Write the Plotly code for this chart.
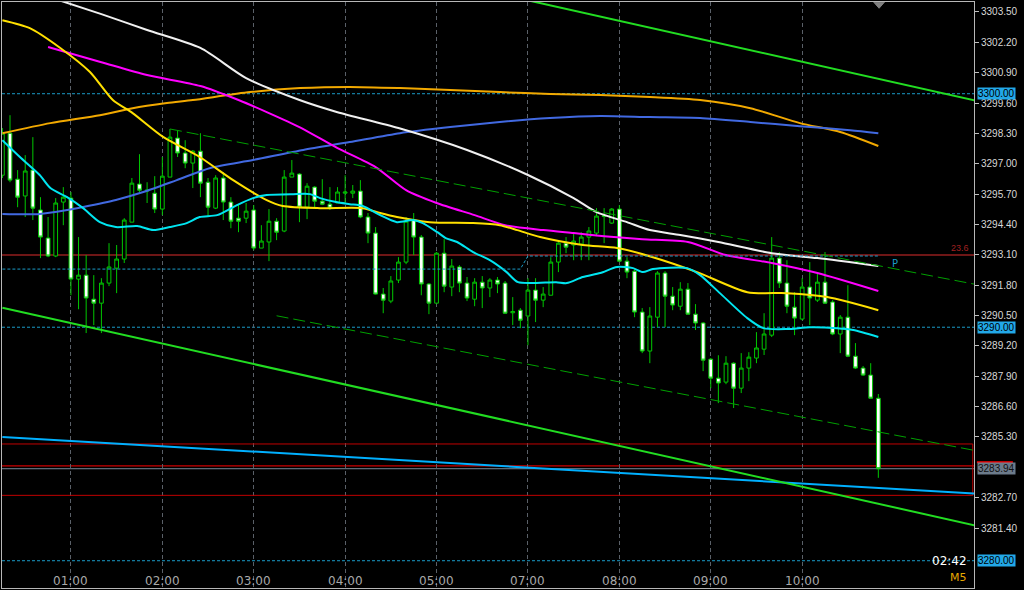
import plotly.graph_objects as go

# ---------------- data (bar index, prices) ----------------
bars = list(range(-1, 115))

opens = [3296.51,
 3298.31, 3296.34, 3295.62, 3296.73, 3295.02, 3293.82, 3293.05, 3295.36, 3295.53, 3292.06,
 3292.23, 3291.20, 3291.03, 3291.89, 3292.53, 3292.92, 3294.50, 3296.13, 3295.83, 3295.74,
 3295.06, 3296.43, 3298.10, 3297.46, 3297.03, 3297.54, 3296.21, 3295.10, 3296.39, 3295.36,
 3294.67, 3294.67, 3295.02, 3293.39, 3293.65, 3294.54, 3294.12, 3296.43, 3296.56, 3295.14,
 3296.00, 3295.40, 3295.27, 3295.32, 3295.74, 3295.74, 3295.83, 3294.72, 3294.03, 3291.42,
 3291.12, 3292.02, 3292.79, 3294.59, 3293.86, 3291.85, 3291.03, 3293.17, 3291.72, 3292.58,
 3291.89, 3291.20, 3291.93, 3291.68, 3292.02, 3291.89, 3290.62, 3290.73, 3290.48, 3291.59,
 3291.16, 3291.37, 3292.79, 3293.60, 3293.52, 3293.56, 3293.86, 3294.03, 3294.74, 3294.46,
 3295.06, 3292.83, 3292.40, 3290.65, 3288.98, 3290.43, 3292.32, 3291.33, 3290.90, 3291.63,
 3290.56, 3290.18, 3288.63, 3287.82, 3287.65, 3288.46, 3287.39, 3288.25, 3288.68, 3289.06,
 3289.66, 3292.96, 3291.89, 3290.86, 3290.35, 3291.72, 3291.16, 3291.93, 3291.08, 3289.71,
 3290.43, 3288.76, 3288.25, 3287.95, 3286.96]

highs = [3298.53,
 3299.08, 3296.73, 3297.37, 3298.14, 3295.57, 3294.72, 3295.53, 3296.00, 3295.79, 3293.86,
 3293.09, 3292.23, 3292.10, 3293.60, 3293.52, 3294.67, 3296.39, 3297.41, 3296.21, 3296.47,
 3297.29, 3298.49, 3298.44, 3298.01, 3297.59, 3298.31, 3296.39, 3296.51, 3296.64, 3295.57,
 3295.23, 3295.32, 3295.23, 3294.37, 3295.06, 3294.67, 3296.73, 3297.16, 3296.60, 3296.17,
 3296.04, 3296.34, 3296.00, 3296.00, 3296.51, 3296.09, 3296.30, 3294.89, 3294.29, 3291.68,
 3292.19, 3293.00, 3294.72, 3294.89, 3293.95, 3291.89, 3293.22, 3293.77, 3292.92, 3292.66,
 3292.15, 3292.10, 3292.19, 3292.10, 3292.15, 3291.98, 3291.29, 3290.82, 3292.10, 3292.10,
 3291.72, 3293.00, 3293.73, 3293.86, 3294.03, 3294.07, 3294.29, 3295.10, 3295.10, 3295.10,
 3295.23, 3293.00, 3292.53, 3290.82, 3290.86, 3292.40, 3292.40, 3291.72, 3291.93, 3291.89,
 3290.99, 3290.22, 3288.68, 3288.80, 3288.76, 3288.50, 3288.89, 3288.93, 3289.79, 3290.60,
 3293.86, 3293.22, 3292.87, 3291.50, 3292.10, 3292.79, 3292.36, 3293.22, 3291.16, 3290.52,
 3291.80, 3289.32, 3288.34, 3288.46, 3287.14]

lows = [3296.39,
 3296.21, 3295.14, 3294.72, 3294.59, 3292.96, 3293.00, 3293.00, 3294.37, 3291.37, 3290.77,
 3289.75, 3290.09, 3289.75, 3291.76, 3291.46, 3292.75, 3294.50, 3295.79, 3295.32, 3294.89,
 3294.80, 3296.43, 3297.29, 3296.81, 3295.96, 3295.57, 3294.72, 3295.06, 3294.59, 3294.24,
 3294.07, 3294.46, 3293.30, 3293.39, 3292.83, 3293.73, 3294.07, 3296.43, 3294.50, 3294.63,
 3295.10, 3295.23, 3295.02, 3295.32, 3295.32, 3295.53, 3294.67, 3293.60, 3291.40, 3290.60,
 3291.03, 3291.89, 3292.70, 3293.09, 3291.37, 3290.56, 3291.03, 3291.50, 3291.33, 3291.50,
 3291.12, 3290.90, 3290.82, 3291.29, 3291.46, 3290.58, 3290.09, 3289.96, 3289.23, 3290.22,
 3290.86, 3291.37, 3292.36, 3293.17, 3292.87, 3292.87, 3292.87, 3293.90, 3293.60, 3294.42,
 3292.79, 3292.10, 3290.43, 3288.89, 3288.46, 3290.00, 3290.00, 3290.73, 3290.73, 3290.54,
 3289.88, 3288.12, 3287.39, 3286.75, 3287.56, 3286.54, 3287.18, 3287.69, 3288.46, 3288.81,
 3289.58, 3291.68, 3290.60, 3289.66, 3290.30, 3290.09, 3291.08, 3291.00, 3289.66, 3288.89,
 3288.72, 3288.21, 3287.91, 3286.94, 3283.55]

closes = [3298.31,
 3296.30, 3295.57, 3296.69, 3295.10, 3293.86, 3293.05, 3295.32, 3295.57, 3292.06, 3292.23,
 3291.25, 3291.03, 3291.89, 3292.58, 3292.92, 3294.59, 3296.17, 3295.87, 3295.87, 3295.06,
 3296.47, 3298.14, 3297.46, 3297.03, 3297.54, 3296.17, 3295.14, 3296.39, 3295.36, 3294.54,
 3294.54, 3294.97, 3293.39, 3293.69, 3294.54, 3294.07, 3296.43, 3296.60, 3295.14, 3296.04,
 3295.40, 3295.27, 3295.10, 3295.79, 3295.79, 3295.83, 3294.72, 3294.03, 3291.42, 3291.16,
 3291.98, 3292.79, 3294.54, 3293.86, 3291.85, 3291.03, 3293.17, 3291.76, 3292.62, 3291.89,
 3291.25, 3291.93, 3291.68, 3292.02, 3291.85, 3290.60, 3290.67, 3290.30, 3291.59, 3291.16,
 3291.42, 3292.79, 3293.60, 3293.43, 3293.69, 3293.86, 3294.12, 3294.76, 3294.78, 3295.06,
 3292.83, 3292.36, 3290.65, 3288.98, 3290.48, 3292.32, 3291.33, 3290.95, 3291.63, 3290.56,
 3290.18, 3288.59, 3287.82, 3287.61, 3288.46, 3287.39, 3288.25, 3288.72, 3289.11, 3289.71,
 3292.96, 3291.89, 3290.90, 3290.39, 3291.72, 3291.25, 3291.93, 3291.03, 3289.71, 3290.43,
 3288.76, 3288.25, 3287.95, 3286.96, 3283.94]

# moving averages (bar index, price)
ma_white_x = [6, 12, 18, 25, 31, 38, 43, 51, 60, 68, 74, 77, 81, 84, 88, 93, 100, 106, 114]
ma_white_y = [3304.05, 3303.41, 3302.73, 3301.96, 3300.67, 3299.73, 3299.21, 3298.53, 3297.59, 3296.52,
              3295.53, 3294.93, 3294.50, 3294.16, 3293.95, 3293.65, 3293.17, 3292.96, 3292.62]

ma_magenta_x = [5, 12, 18, 25, 30, 34, 38, 43, 48, 52, 56, 61, 65, 70, 74, 78, 83, 89, 94, 100, 106, 114]
ma_magenta_y = [3302.00, 3301.35, 3300.80, 3300.33, 3299.73, 3299.17, 3298.57, 3297.67, 3296.86, 3295.87,
                3295.32, 3294.80, 3294.37, 3294.16, 3294.03, 3293.90, 3293.77, 3293.65, 3293.09, 3292.75,
                3292.32, 3291.55]

ma_yellow_x = [-1, 2.6, 6.6, 10.5, 13.5, 16.1, 20.1, 24.9, 29.3, 33.7, 35.8, 40.7, 46.3, 48.6, 50.8, 55.1,
               60.8, 64.3, 66.6, 69.6, 75.2, 79.7, 84.4, 90.2, 96.8, 102, 107.3, 114]
ma_yellow_y = [3303.15, 3302.81, 3301.96, 3300.93, 3299.73, 3299.17, 3298.15, 3297.29, 3296.30, 3295.44,
               3295.19, 3295.10, 3295.10, 3294.89, 3294.72, 3294.50, 3294.46, 3294.37, 3294.16, 3293.86,
               3293.52, 3293.39, 3293.00, 3292.36, 3291.50, 3291.46, 3291.29, 3290.73]

ma_orange_x = [-1, 5.3, 11.8, 16.1, 20.6, 24, 31.5, 38.1, 44.6, 51.2, 57.8, 64.3, 70.9, 77.5, 84, 90.6,
               97.2, 103.7, 109, 114]
ma_orange_y = [3298.31, 3298.74, 3299.08, 3299.38, 3299.60, 3299.73, 3300.07, 3300.24, 3300.29, 3300.24,
               3300.16, 3300.07, 3299.99, 3299.94, 3299.86, 3299.73, 3299.38, 3298.74, 3298.36, 3297.76]

ma_blue_x = [-1, 3.9, 7.5, 9.6, 13.9, 17.5, 21.9, 26.3, 31.9, 38.5, 44.6, 51.2, 57.8, 64.3, 70.9, 77.5,
             84, 90.6, 97.2, 103.7, 110.3, 114]
ma_blue_y = [3294.85, 3294.85, 3295.02, 3295.15, 3295.45, 3295.79, 3296.30, 3296.82, 3297.16, 3297.59,
             3297.93, 3298.31, 3298.57, 3298.79, 3298.96, 3299.05, 3299.00, 3298.96, 3298.79, 3298.61,
             3298.44, 3298.31]

ma_cyan_x = [-1, 1.3, 3.9, 5.3, 7.5, 9.6, 11.8, 13.9, 16.7, 18.8, 21, 23.2, 24.9, 27.2, 29.8, 31.9, 33.7,
             37.2, 39.4, 40.7, 42.8, 44.6, 46.3, 48.6, 50.8, 52.9, 54.2, 56.1, 57.2, 58.7, 60.8, 63, 65.2,
             66.7, 71.7, 73.1, 75.2, 77.5, 79.7, 81.8, 83.1, 84.4, 88.9, 90.6, 93.2, 96.8, 98.9, 102, 105,
             108.6, 110.7, 114]
ma_cyan_y = [3298.01, 3297.29, 3296.52, 3295.96, 3295.57, 3295.10, 3294.50, 3294.29, 3294.33, 3294.16,
             3294.29, 3294.46, 3294.72, 3294.80, 3295.23, 3295.53, 3295.66, 3295.70, 3295.70, 3295.53,
             3295.36, 3295.27, 3295.19, 3294.80, 3294.50, 3294.59, 3294.46, 3294.07, 3293.82, 3293.65,
             3293.22, 3292.87, 3292.36, 3291.93, 3291.93, 3291.89, 3292.15, 3292.32, 3292.58, 3292.53,
             3292.36, 3292.49, 3292.53, 3292.23, 3291.46, 3290.39, 3289.96, 3289.92, 3290.00, 3289.96,
             3289.88, 3289.58]

# pivot level (dotted), changes at the new session
pivot_x = [-1, 67, 68, 114]
pivot_y = [3292.49, 3292.49, 3293.05, 3293.05]

# trend lines: (bar, price) anchors
chan_upper = ([-2, 127], [3309.11, 3299.69])
chan_lower = ([-1, 127], [3290.83, 3281.49])
dash_upper = ([21, 127], [3298.49, 3291.82])
dash_lower = ([35, 127], [3290.49, 3284.70])
reg_blue = ([-1, 127], [3285.30, 3282.87])

# horizontal levels
round_levels = [3300.00, 3290.00, 3280.00]
fib_236 = 3293.09
box_top, box_bottom = 3285.00, 3282.80
ask_price = 3284.06
bid_price = 3283.94

price_ticks = [3303.50, 3302.20, 3300.90, 3299.60, 3298.30, 3297.00, 3295.70, 3294.40,
               3293.10, 3291.80, 3290.50, 3289.20, 3287.90, 3286.60, 3285.30, 3282.70, 3281.40]

time_ticks = [8, 20, 32, 44, 56, 68, 80, 92, 104]
time_labels = ["01:00", "02:00", "03:00", "04:00", "05:00", "07:00", "08:00", "09:00", "10:00"]

# ---------------- figure ----------------
GREEN = "#00C800"
fig = go.Figure()

fig.add_trace(go.Candlestick(
    x=bars, open=opens, high=highs, low=lows, close=closes,
    increasing=dict(line=dict(color=GREEN, width=1), fillcolor="#000000"),
    decreasing=dict(line=dict(color=GREEN, width=1), fillcolor="#FFFFFF"),
    whiskerwidth=0, hoverinfo="skip", showlegend=False))

def line(xs, ys, color, width=2, dash="solid", smooth=False):
    ln = dict(color=color, width=width, dash=dash)
    if smooth:
        ln.update(shape="spline", smoothing=0.7)
    fig.add_trace(go.Scatter(x=xs, y=ys, mode="lines", line=ln,
                             hoverinfo="skip", showlegend=False))

line(ma_orange_x, ma_orange_y, "#F2A900", smooth=True)
line(ma_blue_x, ma_blue_y, "#4169E1", smooth=True)
line(ma_white_x, ma_white_y, "#F0F0F0", smooth=True)
line(ma_magenta_x, ma_magenta_y, "#FF00FF", smooth=True)
line(ma_yellow_x, ma_yellow_y, "#FFE000", smooth=True)
line(ma_cyan_x, ma_cyan_y, "#00E5F0", smooth=True)
line(pivot_x, pivot_y, "#1A9CC8", 1, "3px,2px")
line(*reg_blue, "#00B0FF", 2)
line(*chan_upper, "#22DD22", 2)
line(*chan_lower, "#22DD22", 2)
line(*dash_upper, "#00A000", 1, "12px,5px")
line(*dash_lower, "#00A000", 1, "12px,5px")

shapes = []
for lv in round_levels:
    shapes.append(dict(type="line", xref="paper", x0=0, x1=1, yref="y", y0=lv, y1=lv,
                       line=dict(color="#1A9CC8", width=1, dash="3px,2px"), layer="between"))
shapes.append(dict(type="line", xref="paper", x0=0, x1=1, yref="y", y0=fib_236, y1=fib_236,
                   line=dict(color="#6E1616", width=2), layer="between"))
shapes.append(dict(type="rect", xref="x", x0=-3, x1=126.4, yref="y", y0=box_bottom, y1=box_top,
                   line=dict(color="#C00000", width=1), layer="between"))
shapes.append(dict(type="line", xref="paper", x0=0, x1=1, yref="y", y0=ask_price, y1=ask_price,
                   line=dict(color="#FF0000", width=1), layer="between"))
shapes.append(dict(type="line", xref="paper", x0=0, x1=1, yref="y", y0=bid_price, y1=bid_price,
                   line=dict(color="#778899", width=1), layer="between"))
shapes.append(dict(type="line", xref="paper", x0=1.003, x1=1.04, yref="y", y0=3284.22, y1=3284.22,
                   line=dict(color="#FF0000", width=2), layer="above"))
shapes.append(dict(type="path", xref="x", yref="y",
                   path="M 113.4 3303.92 L 114.8 3303.92 L 114.1 3303.66 Z",
                   fillcolor="#808080", line=dict(color="#808080", width=1)))

annotations = []
for tv, tl in zip(time_ticks, time_labels):
    annotations.append(dict(x=tv, xref="x", y=0.012, yref="paper", text=tl, showarrow=False,
                            xanchor="center", yanchor="middle",
                            font=dict(family="DejaVu Sans", size=12, color="#A8A8A8")))
for lv in round_levels:
    annotations.append(dict(x=1, xref="paper", xshift=3, y=lv, yref="y", text=f"{lv:.2f}",
                            showarrow=False, xanchor="left", yanchor="middle",
                            bgcolor="#22A8E8", borderpad=0,
                            font=dict(family="Liberation Sans", size=10, color="#000000")))
annotations.append(dict(x=1, xref="paper", xshift=3, y=bid_price, yref="y", text=f"{bid_price:.2f}",
                        showarrow=False, xanchor="left", yanchor="middle",
                        bgcolor="#6C7B8B", borderpad=0,
                        font=dict(family="Liberation Sans", size=10, color="#111111")))
annotations.append(dict(x=1, xref="paper", xshift=-3, y=fib_236, yref="y", text="23.6",
                        showarrow=False, xanchor="right", yanchor="bottom",
                        font=dict(family="Liberation Sans", size=9, color="#A02020")))
annotations.append(dict(x=116.2, xref="x", y=3292.75, yref="y", text="P", showarrow=False,
                        xanchor="center", yanchor="middle",
                        font=dict(family="DejaVu Sans", size=10, color="#1A9CC8")))
annotations.append(dict(x=1, xref="paper", xshift=-5, y=3280.0, yref="y", text="02:42",
                        showarrow=False, xanchor="right", yanchor="middle",
                        font=dict(family="DejaVu Sans", size=12, color="#FFFFFF")))
annotations.append(dict(x=1, xref="paper", xshift=-5, y=0.018, yref="paper", text="M5",
                        showarrow=False, xanchor="right", yanchor="middle",
                        font=dict(family="DejaVu Sans", size=11, color="#E6A800")))

fig.update_layout(
    width=1024, height=590, autosize=False,
    margin=dict(l=2, r=50, t=2, b=2, pad=0),
    paper_bgcolor="#000000", plot_bgcolor="#000000",
    showlegend=False, boxgap=0.3,
    shapes=shapes, annotations=annotations,
    xaxis=dict(range=[-1.05, 126.56], tickvals=time_ticks, showticklabels=False, ticks="",
               showgrid=True, gridcolor="#5A6068", gridwidth=1, griddash="4px,3px",
               zeroline=False, showline=True, linecolor="#B8B8B8", linewidth=1, mirror=True,
               rangeslider=dict(visible=False), fixedrange=True),
    yaxis=dict(range=[3278.832, 3303.928], side="right", tickvals=price_ticks,
               ticktext=[f"{v:.2f}" for v in price_ticks], ticks="outside", ticklen=4,
               tickcolor="#C0C0C0", tickwidth=1,
               tickfont=dict(family="Liberation Sans", size=10, color="#D8D8D8"),
               showgrid=False, zeroline=False, showline=True, linecolor="#B8B8B8",
               linewidth=1, mirror=True, fixedrange=True),
)

fig.write_html(
    "out.html",
    config={"displayModeBar": False, "staticPlot": True},
    post_script="document.body.style.margin='0';document.body.style.padding='0';"
                "document.body.style.background='#000000';",
)
